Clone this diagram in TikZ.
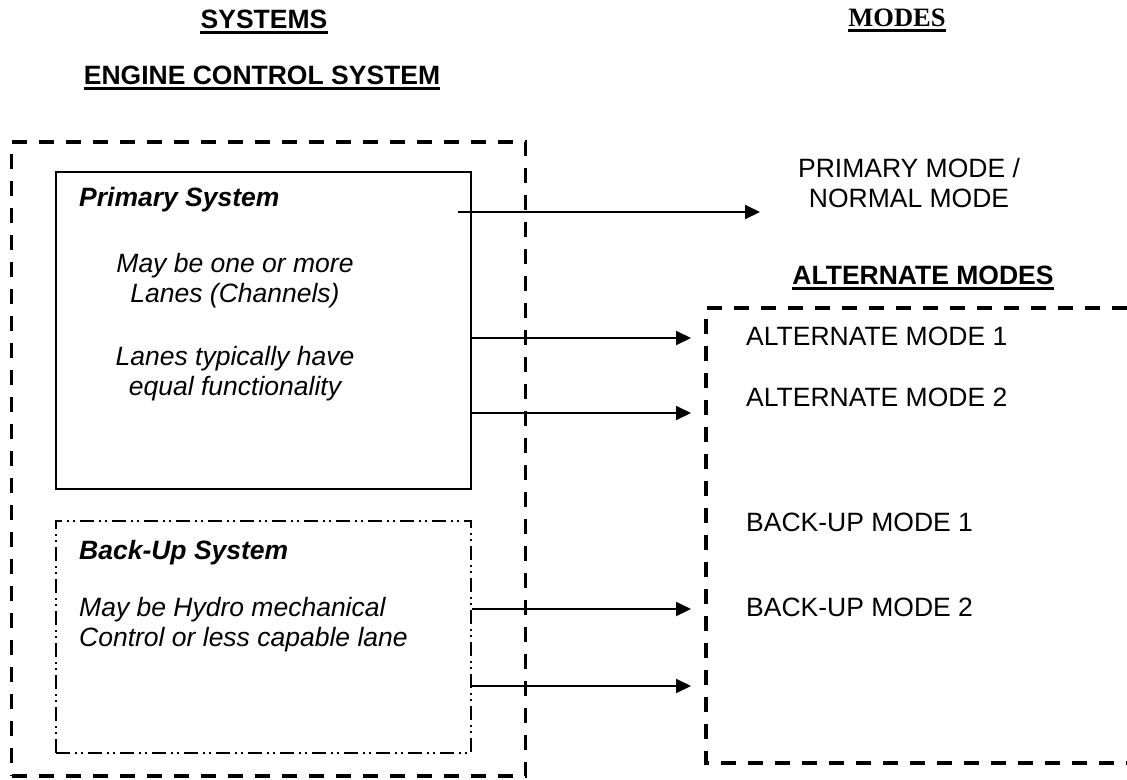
\documentclass[tikz,border=0pt]{standalone}
\usepackage{fontspec}
\setmainfont{Liberation Sans}
\newfontfamily\timesfont{Liberation Serif}
\usetikzlibrary{arrows.meta}

\newcommand{\figsize}{\fontsize{26.5}{30}\selectfont}

\begin{document}
\begin{tikzpicture}[x=1pt, y=-1pt,
    txt/.style={inner sep=0pt, font=\figsize},
    head/.style={inner sep=0pt, anchor=base, font=\figsize\bfseries},
    headline/.style={line width=2.5pt},
    note/.style={inner sep=0pt, font=\figsize\itshape},
    outerbox/.style={draw, line width=3.5pt, dash pattern=on 15pt off 12pt},
    primbox/.style={draw, line width=2pt, inner sep=0pt},
    backbox/.style={draw, line width=1.5pt, inner sep=0pt, dash pattern=on 14pt off 5pt on 2pt off 4pt on 2pt off 5pt},
    link/.style={line width=2pt, -{Triangle[length=15pt,width=14pt]}}]

  \useasboundingbox (0,0) rectangle (1127,779);

  % headings
  \node[head] (systems) at (264,28) {SYSTEMS};
  \node[head, font=\figsize\timesfont\bfseries] (modes) at (897,26) {MODES};
  \node[head] (ecs) at (262,84) {ENGINE CONTROL SYSTEM};
  \draw[headline] ([yshift=-4.5pt]systems.base west) -- ([yshift=-4.5pt]systems.base east);
  \draw[headline] ([yshift=-4.5pt]modes.base west) -- ([yshift=-4.5pt]modes.base east);
  \draw[headline] ([yshift=-4.5pt]ecs.base west) -- ([yshift=-4.5pt]ecs.base east);

  % engine control system
  \node[outerbox, minimum width=514pt, minimum height=634pt] (ecsbox) at (268.5,459) {};
  \node[primbox, minimum width=415pt, minimum height=317pt] (primary) at (263.5,330.5) {};
  \node[backbox, minimum width=415pt, minimum height=232pt] (backup) at (263.5,637) {};

  \node[note, anchor=base west, font=\figsize\bfseries\itshape] (primtitle) at (79,206) {Primary System};
  \node[note, anchor=base, align=center] (primtext1) at (235,302) {May be one or more\\Lanes (Channels)};
  \node[note, anchor=base, align=center] (primtext2) at (235,395) {Lanes typically have\\equal functionality};
  \node[note, anchor=base west, font=\figsize\bfseries\itshape] (backtitle) at (79,559) {Back-Up System};
  \node[note, anchor=base west, align=left] (backtext) at (79,646) {May be Hydro mechanical\\Control or less capable lane};

  % modes
  \node[txt, anchor=base, align=center] (normal) at (909,207) {PRIMARY MODE /\\NORMAL MODE};
  \node[head] (altmodes) at (923,284) {ALTERNATE MODES};
  \draw[headline] ([yshift=-4.5pt]altmodes.base west) -- ([yshift=-4.5pt]altmodes.base east);
  \draw[outerbox] (1127,308) -| (706,763) -- (1127,763);
  \node[txt, anchor=base west] (alt1) at (746,345) {ALTERNATE MODE 1};
  \node[txt, anchor=base west] (alt2) at (746,406) {ALTERNATE MODE 2};
  \node[txt, anchor=base west] (back1) at (746,531) {BACK-UP MODE 1};
  \node[txt, anchor=base west] (back2) at (746,616) {BACK-UP MODE 2};

  % arrows
  \coordinate (p0) at (458,212);
  \coordinate (p1) at (760,212);
  \coordinate (a1) at (691,338);
  \coordinate (a2) at (691,413);
  \coordinate (b1) at (691,609);
  \coordinate (b2) at (691,686);
  \draw[link] (p0) -- (p1);
  \draw[link] (primary.east |- a1) -- (a1);
  \draw[link] (primary.east |- a2) -- (a2);
  \draw[link] (backup.east |- b1) -- (b1);
  \draw[link] (backup.east |- b2) -- (b2);
\end{tikzpicture}
\end{document}
